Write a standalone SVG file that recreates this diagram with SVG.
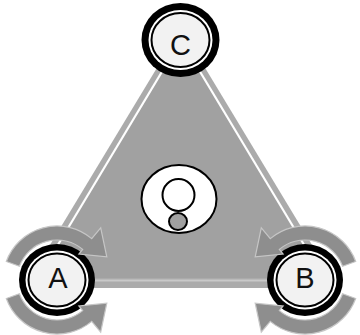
<svg xmlns="http://www.w3.org/2000/svg" width="360" height="335" viewBox="0 0 360 335">
<defs>
<style>
.ring-o{fill:#000}
.ring-w{fill:#fff}
.ring-i{fill:#f2f2f2;stroke:#000;stroke-width:2}
.lbl{font-family:"Liberation Sans","Open Sans",sans-serif;font-size:29px;fill:#111;text-anchor:middle}
.arr{fill:#8e8e8e;stroke:#c6c6c6;stroke-width:1.2;stroke-linejoin:miter}
.ln{fill:none;stroke-width:2.2;stroke-linecap:butt}
</style>
</defs>
<rect width="360" height="335" fill="#fff"/>
<g id="connectors">
<polygon points="181,28 24,288 338,288" fill="#ababab"/>
<polygon points="181,42 38,278 324,278" fill="#a1a1a1"/>
<line class="ln" x1="169" y1="60" x2="38" y2="278" stroke="#fff"/>
<line class="ln" x1="193" y1="60" x2="324" y2="278" stroke="#fff"/>
<line x1="38" y1="280.5" x2="324" y2="280.5" stroke="#c9c9c9" stroke-width="2"/>
</g>
<g id="center">
<ellipse cx="179" cy="199" rx="37.5" ry="34" fill="#fff" stroke="#000" stroke-width="2"/>
<circle cx="178.5" cy="195" r="16" fill="#fff" stroke="#000" stroke-width="2"/>
<ellipse cx="178" cy="221.5" rx="9" ry="8.5" fill="#a0a0a0" stroke="#000" stroke-width="2"/>
</g>
<g id="node-C">
<ellipse class="ring-o" cx="180.5" cy="40" rx="39" ry="37"/>
<ellipse class="ring-w" cx="180.5" cy="40" rx="32" ry="30"/>
<ellipse class="ring-i" cx="180.5" cy="40" rx="29" ry="27"/>
<text class="lbl" x="180.5" y="55">C</text>
</g>
<g id="node-A">
<ellipse class="ring-o" cx="57" cy="280" rx="38" ry="36"/>
<ellipse class="ring-w" cx="57" cy="280" rx="31.5" ry="29.5"/>
<ellipse class="ring-i" cx="57" cy="280" rx="28.5" ry="26.5"/>
<text class="lbl" x="58" y="288">A</text>
<path class="arr" d="M6.3,261.5 A54,54 0 0 1 91.7,238.6 L100.7,227.9 L106.8,256.8 L78.9,254 L82.7,249.4 A40,40 0 0 0 19.4,266.3 Z"/>
<path class="arr" d="M6.3,298.5 A54,54 0 0 0 91.7,321.4 L100.7,332.1 L106.8,303.2 L78.9,306 L82.7,310.6 A40,40 0 0 1 19.4,293.7 Z"/>
</g>
<g id="node-B">
<ellipse class="ring-o" cx="305" cy="280" rx="38" ry="36"/>
<ellipse class="ring-w" cx="305" cy="280" rx="31.5" ry="29.5"/>
<ellipse class="ring-i" cx="305" cy="280" rx="28.5" ry="26.5"/>
<text class="lbl" x="305" y="288">B</text>
<path class="arr" d="M355.7,261.5 A54,54 0 0 0 270.3,238.6 L261.3,227.9 L255.2,256.8 L283.1,254 L279.3,249.4 A40,40 0 0 1 342.6,266.3 Z"/>
<path class="arr" d="M355.7,298.5 A54,54 0 0 1 270.3,321.4 L261.3,332.1 L255.2,303.2 L283.1,306 L279.3,310.6 A40,40 0 0 0 342.6,293.7 Z"/>
</g>
</svg>
